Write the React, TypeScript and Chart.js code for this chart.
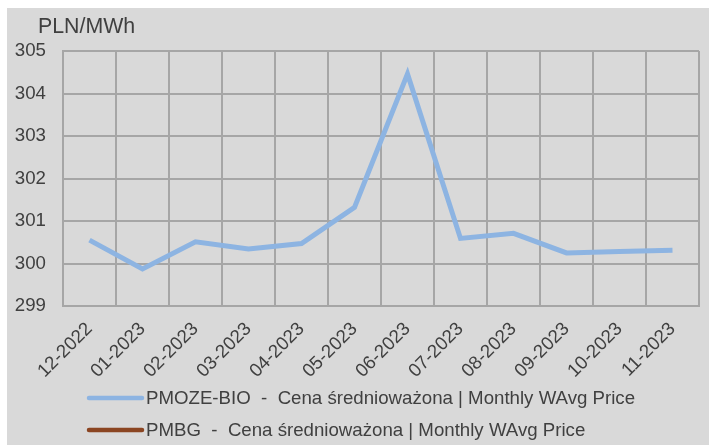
import React, { useEffect, useRef } from "react";
import { Chart, registerables } from "chart.js";

Chart.register(...registerables);

const categories = [
  "12-2022", "01-2023", "02-2023", "03-2023", "04-2023", "05-2023",
  "06-2023", "07-2023", "08-2023", "09-2023", "10-2023", "11-2023",
];
const pmozeBioValues = [300.55, 299.87, 300.51, 300.34, 300.47, 301.32, 304.46, 300.59, 300.71, 300.25, 300.28, 300.31];
const pmbgValues: (number | null)[] = [null, null, null, null, null, null, null, null, null, null, null, null];
const seriesLabels = [
  "PMOZE-BIO  -  Cena średnioważona | Monthly WAvg Price",
  "PMBG  -  Cena średnioważona | Monthly WAvg Price",
];
const yMin = 299;
const yMax = 305;
const yStep = 1;
const unitLabel = "PLN/MWh";

const FONT = "'Liberation Sans', Arial, sans-serif";
const TEXT = "#404040";
const GRID = "#a6a6a6";
const FS = 18.67;

const titleLegendPlugin = {
  id: "titleLegend",
  afterDraw(chart: any) {
    const ctx = chart.ctx;
    ctx.save();
    ctx.fillStyle = TEXT;
    ctx.font = `21.33px ${FONT}`;
    ctx.textAlign = "left";
    ctx.textBaseline = "middle";
    ctx.fillText(unitLabel, 30, 19);
    const rows = [390, 422];
    chart.data.datasets.forEach((ds: any, i: number) => {
      const y = rows[i];
      ctx.strokeStyle = ds.borderColor;
      ctx.lineWidth = 4.5;
      ctx.lineCap = "round";
      ctx.beginPath();
      ctx.moveTo(81, y);
      ctx.lineTo(134, y);
      ctx.stroke();
      ctx.fillStyle = TEXT;
      ctx.font = `${FS}px ${FONT}`;
      ctx.textBaseline = "middle";
      ctx.fillText(ds.label, 138, y + 1);
    });
    ctx.restore();
  },
};

export default function App() {
  const ref = useRef<HTMLCanvasElement | null>(null);
  useEffect(() => {
    document.body.style.overflow = "hidden";
    document.documentElement.style.overflow = "hidden";
    if (!ref.current) return;
    const chart = new Chart(ref.current, {
      type: "line",
      data: {
        labels: categories,
        datasets: [
          {
            label: seriesLabels[0],
            data: pmozeBioValues,
            borderColor: "#8db4e2",
            backgroundColor: "#8db4e2",
            borderWidth: 5,
            pointRadius: 0,
            tension: 0,
          },
          {
            label: seriesLabels[1],
            data: pmbgValues,
            borderColor: "#8b4522",
            backgroundColor: "#8b4522",
            borderWidth: 5,
            pointRadius: 0,
          },
        ],
      },
      options: {
        animation: false,
        responsive: false,
        layout: { padding: { top: 43, right: 10, left: 0, bottom: 0 } },
        plugins: {
          legend: { display: false },
          title: { display: false },
          tooltip: { enabled: false },
        },
        scales: {
          x: {
            offset: true,
            afterFit: (s: any) => { s.height = 139; },
            grid: { offset: true, color: GRID, lineWidth: 2, drawTicks: false },
            border: { color: GRID, width: 2 },
            ticks: {
              autoSkip: false,
              maxRotation: 45,
              minRotation: 45,
              padding: 12,
              color: TEXT,
              font: { family: FONT, size: FS },
            },
          },
          y: {
            min: yMin,
            max: yMax,
            afterFit: (s: any) => { s.width = 55; },
            grid: { color: GRID, lineWidth: 2, drawTicks: false },
            border: { color: GRID, width: 2 },
            ticks: {
              stepSize: yStep,
              padding: 17,
              color: TEXT,
              font: { family: FONT, size: FS },
            },
          },
        },
      },
      plugins: [titleLegendPlugin],
    });
    return () => chart.destroy();
  }, []);
  return (
    <div style={{ position: "fixed", left: 7, top: 8, width: 760, height: 480, background: "#d9d9d9" }}>
      <canvas ref={ref} width={701} height={437} style={{ display: "block", marginLeft: 1 }} />
    </div>
  );
}
